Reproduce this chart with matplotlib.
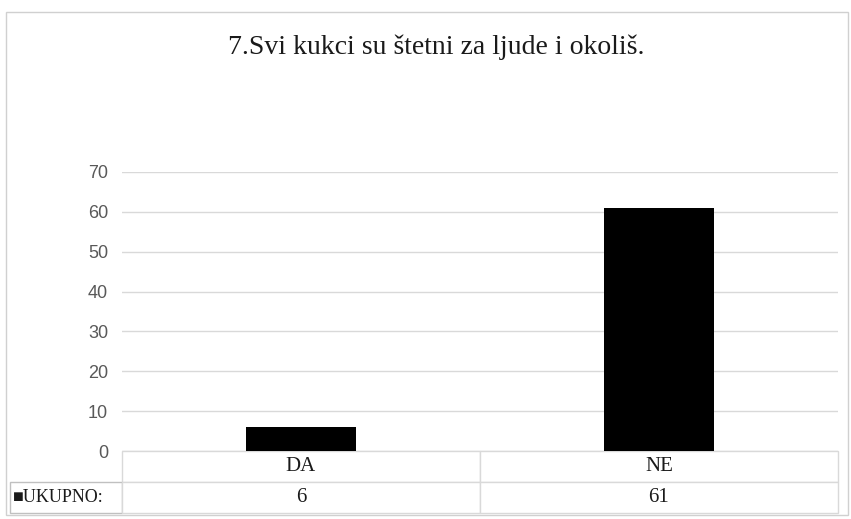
import matplotlib.pyplot as plt
from matplotlib.patches import Rectangle

categories = ["DA", "NE"]
values = [6, 61]
series_label = "UKUPNO:"
title = "7.Svi kukci su štetni za ljude i okoliš."
yticks = [0, 10, 20, 30, 40, 50, 60, 70]

grid_col = "#d9d9d9"
serif = ["Liberation Serif", "DejaVu Serif"]

fig = plt.figure(figsize=(8.51, 5.19), dpi=100)

# outer chart border
fig.patches.append(Rectangle((6 / 851, 4 / 519), 842 / 851, 503 / 519,
                             transform=fig.transFigure, fill=False,
                             edgecolor="#d0d0d0", linewidth=1))

ax = fig.add_axes([122 / 851, 68 / 519, 716 / 851, 279 / 519])

x = range(len(categories))
ax.bar(x, values, width=0.31, color="black", zorder=3)
ax.set_xlim(-0.5, len(categories) - 0.5)
ax.set_ylim(0, 70)
ax.set_yticks(yticks)
ax.set_yticklabels([str(v) for v in yticks], fontsize=13,
                   family="Liberation Sans", color="#595959")
ax.tick_params(axis="y", length=0, pad=10)
ax.set_xticks([])
ax.grid(axis="y", color=grid_col, linewidth=1, zorder=0)
for s in ax.spines.values():
    s.set_visible(False)

fig.text(436 / 851, 1 - 47 / 519, title, ha="center", va="center",
         fontsize=20, family=serif, color="#1a1a1a")

# data table below the plot (row label column sits left of the axes)
lab_w = 112 / 716
tbl = ax.table(cellText=[[str(v) for v in values]],
               rowLabels=["\u25a0" + series_label],
               colLabels=categories,
               colWidths=[0.5, 0.5],
               cellLoc="center", rowLoc="left",
               bbox=[0, -62 / 279, 1, 62 / 279])
tbl._autoColumns = []  # keep a fixed width for the row label column
tbl.auto_set_font_size(False)
tbl.set_fontsize(15)
for (r, c), cell in tbl.get_celld().items():
    cell.set_edgecolor(grid_col)
    cell.set_linewidth(1)
    cell.get_text().set_family(serif)
    cell.get_text().set_color("#1a1a1a")
    if c == -1:
        cell.set_width(lab_w)
        cell.set_edgecolor("#c0c0c0")
        cell.PAD = 0.03
        cell.get_text().set_fontsize(13)

fig.savefig("out.png", dpi=100)
